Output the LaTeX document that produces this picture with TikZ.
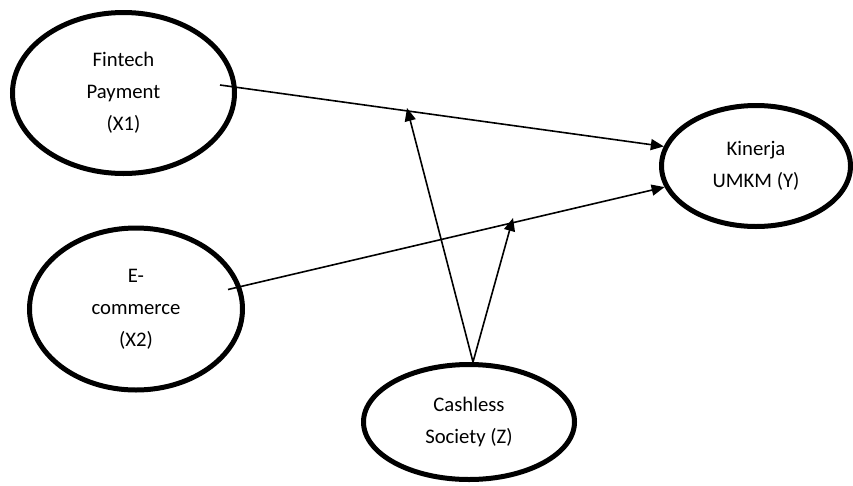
\documentclass[tikz,border=0pt]{standalone}
\usepackage{fontspec}
\setmainfont{Carlito}
\usetikzlibrary{arrows.meta,shapes.geometric}
\begin{document}
\begin{tikzpicture}[x=1pt,y=-1pt,
  var/.style={ellipse, draw, line width=5pt, align=center, inner sep=0pt,
    font=\fontsize{20.7}{32}\selectfont},
  conn/.style={line width=1.6pt, -{Triangle[length=13pt,width=11pt]}}]
\useasboundingbox (0,0) rectangle (853,485);
\node[var, minimum width=222pt, minimum height=161pt] (fin) at (123.5,93) {Fintech\\Payment\\(X1)};
\node[var, minimum width=213pt, minimum height=162pt] (eco) at (136,309) {E-\\commerce\\(X2)};
\node[var, minimum width=189pt, minimum height=121pt] (kin) at (756,166) {Kinerja\\UMKM (Y)};
\node[var, minimum width=211pt, minimum height=115pt] (cash) at (469,422) {Cashless\\Society (Z)};
\coordinate (m1) at (407,108);
\coordinate (m2) at (513,218);
\draw[conn] ([shift={(-17,-8)}]fin.east) -- (kin.168);
\draw[conn] ([shift={(-17,-19.5)}]eco.east) -- (kin.193);
\draw[conn] ([xshift=4pt]cash.north) -- (m1);
\draw[conn] ([xshift=4pt]cash.north) -- (m2);
\end{tikzpicture}
\end{document}
